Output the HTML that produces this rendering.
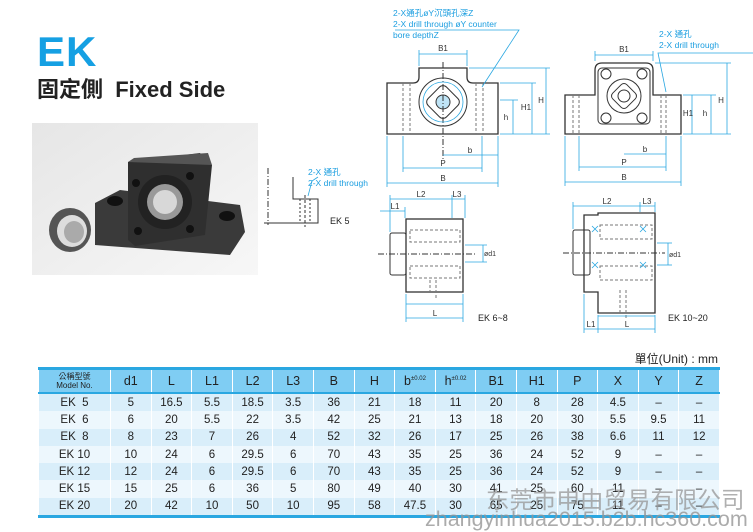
<!DOCTYPE html>
<html><head><meta charset="utf-8"><style>
body{margin:0;width:753px;height:531px;background:#fff;position:relative;overflow:hidden;font-family:"Liberation Sans","Noto Sans CJK TC",sans-serif}
.a{position:absolute;white-space:nowrap}
table{position:absolute;left:38px;top:367px;border-collapse:collapse;font-size:11.5px;color:#222;table-layout:fixed;border-top:3px solid #2aa7e1;border-bottom:3px solid #2aa7e1}
td,th{height:17.3px;padding:0;text-align:center;border-left:1px solid #fff;border-right:1px solid #fff}
th{background:#7fcdf3;font-weight:normal;font-size:12.5px;height:22px;border-bottom:2px solid #2aa7e1}
tr:nth-child(even) td{background:#d9eefa}
tr:nth-child(odd) td{background:#edf7fd}
</style></head><body>
<div class="a" style="left:37px;top:28px;font-size:42px;font-weight:bold;color:#15a0e3;letter-spacing:1px">EK</div>
<div class="a" style="left:37px;top:72px;font-size:22px;font-weight:bold;color:#222">固定側&nbsp; Fixed Side</div>

<svg class="a" style="left:0;top:0" width="753" height="360" viewBox="0 0 753 360">
<defs><linearGradient id="bg" x1="0" y1="0" x2="1" y2="1"><stop offset="0" stop-color="#e6e6e6"/><stop offset="1" stop-color="#f7f7f7"/></linearGradient></defs>
<rect x="32" y="123" width="226" height="152" fill="url(#bg)"/>
<polygon points="95,203 120,190 240,205 245,232 230,255 95,245" fill="#3a3a3a"/>
<polygon points="128,162 200,153 212,165 205,235 135,246 128,240" fill="#2f2f2f"/>
<polygon points="128,162 134,158 208,153 212,165" fill="#555"/>
<circle cx="165" cy="202" r="27" fill="#222"/>
<circle cx="165" cy="202" r="18" fill="#999"/>
<circle cx="165" cy="202" r="12" fill="#d8d8d8"/>
<circle cx="136" cy="183" r="4" fill="#111"/><circle cx="190" cy="176" r="4" fill="#111"/>
<circle cx="138" cy="231" r="4" fill="#111"/><circle cx="190" cy="229" r="4" fill="#111"/>
<ellipse cx="115" cy="201" rx="8" ry="5" fill="#111"/><ellipse cx="227" cy="216" rx="8" ry="5" fill="#111"/>
<ellipse cx="70" cy="230" rx="21" ry="22" fill="#555"/>
<ellipse cx="72" cy="231" rx="15" ry="16" fill="#ddd"/>
<ellipse cx="74" cy="232" rx="10" ry="11" fill="#aaa"/>
<g stroke="#333" fill="none" stroke-width="1">
<line x1="268" y1="168" x2="268" y2="225" stroke-dasharray="6,2,1,2"/>
<path d="M264 223H318V199H293V177"/>
<line x1="305" y1="195" x2="305" y2="227" stroke-dasharray="3,2"/>
<line x1="300" y1="199" x2="300" y2="223" stroke-dasharray="2,2"/><line x1="310" y1="199" x2="310" y2="223" stroke-dasharray="2,2"/>
<path d="M387 83H413Q419 83 419 77V68H467V77Q467 83 473 83H498V134H387Z" stroke-width="1.3"/>
<circle cx="443" cy="102" r="24"/>
<rect x="430" y="89" width="26" height="26" rx="5" transform="rotate(45 443 102)"/>
<circle cx="443" cy="102" r="7" fill="#bfe4f6"/>
<g stroke-dasharray="3,2" stroke="#777"><line x1="403" y1="83" x2="403" y2="134"/><line x1="410" y1="83" x2="410" y2="134"/><line x1="476" y1="83" x2="476" y2="134"/><line x1="483" y1="83" x2="483" y2="134"/></g>
<line x1="443" y1="62" x2="443" y2="160" stroke-dasharray="6,2,1,2"/>
<path d="M565 95H595V70Q595 63 602 63H646Q653 63 653 70V95H681V134H565Z" stroke-width="1.3"/>
<rect x="598" y="68" width="52" height="56" rx="4"/>
<circle cx="624" cy="96" r="17"/>
<rect x="614" y="86" width="20" height="20" rx="4" transform="rotate(45 624 96)"/>
<circle cx="624" cy="96" r="6"/>
<circle cx="606" cy="74" r="5"/><circle cx="642" cy="74" r="5"/><circle cx="606" cy="118" r="5"/><circle cx="642" cy="118" r="5"/>
<g stroke-dasharray="3,2" stroke="#777"><line x1="573" y1="95" x2="573" y2="134"/><line x1="579" y1="95" x2="579" y2="134"/><line x1="661" y1="95" x2="661" y2="134"/><line x1="666" y1="95" x2="666" y2="134"/></g>
<rect x="406" y="219" width="57" height="73" stroke-width="1.3"/>
<rect x="390" y="233" width="16" height="42" rx="2"/>
<line x1="378" y1="254" x2="475" y2="254" stroke-dasharray="6,2,1,2"/>
<g stroke-dasharray="3,2" stroke="#777"><rect x="410" y="230" width="50" height="12"/><rect x="410" y="266" width="50" height="12"/><line x1="430" y1="280" x2="430" y2="295"/><line x1="436" y1="280" x2="436" y2="300"/></g>
<path d="M598 213H655V313H598V292H584V215H598Z" stroke-width="1.3"/>
<rect x="573" y="230" width="17" height="45" rx="2"/>
<line x1="563" y1="253" x2="665" y2="253" stroke-dasharray="6,2,1,2"/>
<g stroke-dasharray="3,2" stroke="#777"><rect x="600" y="225" width="52" height="14"/><rect x="600" y="266" width="52" height="14"/><line x1="620" y1="290" x2="620" y2="315"/><line x1="626" y1="290" x2="626" y2="320"/></g>
</g>
<g stroke="#2aa7e1" fill="none" stroke-width="0.8">
<circle cx="443" cy="102" r="20"/>
<path d="M318 177L312 181L308 196"/>
<line x1="419" y1="54" x2="467" y2="54"/><line x1="419" y1="50" x2="419" y2="66"/><line x1="467" y1="50" x2="467" y2="66"/>
<line x1="500" y1="100" x2="518" y2="100"/><line x1="500" y1="134" x2="550" y2="134"/><line x1="500" y1="83" x2="536" y2="83"/><line x1="469" y1="68" x2="550" y2="68"/>
<line x1="513" y1="100" x2="513" y2="134"/><line x1="532" y1="83" x2="532" y2="134"/><line x1="546" y1="68" x2="546" y2="134"/>
<line x1="443" y1="155" x2="498" y2="155"/><line x1="403" y1="168" x2="482" y2="168"/><line x1="387" y1="183" x2="498" y2="183"/>
<line x1="387" y1="136" x2="387" y2="187"/><line x1="498" y1="136" x2="498" y2="187"/><line x1="403" y1="136" x2="403" y2="172"/><line x1="482" y1="136" x2="482" y2="172"/>
<path d="M482 87L519 30H395"/>
<line x1="595" y1="55" x2="653" y2="55"/><line x1="595" y1="51" x2="595" y2="61"/><line x1="653" y1="51" x2="653" y2="61"/>
<line x1="683" y1="95" x2="716" y2="95"/><line x1="683" y1="134" x2="731" y2="134"/><line x1="655" y1="63" x2="731" y2="63"/>
<line x1="692" y1="95" x2="692" y2="134"/><line x1="711" y1="95" x2="711" y2="134"/><line x1="727" y1="63" x2="727" y2="134"/>
<line x1="624" y1="154" x2="666" y2="154"/><line x1="579" y1="167" x2="666" y2="167"/><line x1="565" y1="182" x2="681" y2="182"/>
<line x1="565" y1="136" x2="565" y2="186"/><line x1="681" y1="136" x2="681" y2="186"/><line x1="579" y1="136" x2="579" y2="171"/><line x1="666" y1="136" x2="666" y2="171"/>
<path d="M666 92L658 53H753"/>
<line x1="390" y1="199" x2="465" y2="199"/><line x1="380" y1="211" x2="405" y2="211"/>
<line x1="390" y1="195" x2="390" y2="232"/><line x1="452" y1="195" x2="452" y2="218"/><line x1="465" y1="195" x2="465" y2="218"/><line x1="405" y1="207" x2="405" y2="218"/>
<line x1="406" y1="304" x2="463" y2="304"/><line x1="406" y1="318" x2="463" y2="318"/>
<line x1="406" y1="294" x2="406" y2="322"/><line x1="463" y1="294" x2="463" y2="322"/>
<line x1="483" y1="245" x2="483" y2="262"/><line x1="465" y1="245" x2="487" y2="245"/><line x1="465" y1="262" x2="487" y2="262"/>
<line x1="573" y1="206" x2="655" y2="206"/><line x1="573" y1="202" x2="573" y2="229"/><line x1="640" y1="202" x2="640" y2="212"/><line x1="655" y1="202" x2="655" y2="212"/>
<line x1="598" y1="316" x2="655" y2="316"/><line x1="584" y1="329" x2="655" y2="329"/>
<line x1="584" y1="294" x2="584" y2="333"/><line x1="598" y1="315" x2="598" y2="333"/><line x1="655" y1="315" x2="655" y2="333"/>
<line x1="668" y1="243" x2="668" y2="265"/><line x1="657" y1="243" x2="672" y2="243"/><line x1="657" y1="265" x2="672" y2="265"/>
<path d="M592 226l6 6m0-6l-6 6M640 226l6 6m0-6l-6 6M592 262l6 6m0-6l-6 6M640 262l6 6m0-6l-6 6"/>
</g>
<g font-size="8" fill="#333" text-anchor="middle">
<text x="443" y="51">B1</text><text x="624" y="52">B1</text>
<text x="470" y="153">b</text><text x="443" y="166">P</text><text x="443" y="181">B</text>
<text x="645" y="152">b</text><text x="624" y="165">P</text><text x="624" y="180">B</text>
<text x="506" y="120">h</text><text x="526" y="110">H1</text><text x="541" y="103">H</text>
<text x="688" y="116">H1</text><text x="705" y="116">h</text><text x="721" y="103">H</text>
<text x="421" y="197">L2</text><text x="457" y="197">L3</text><text x="395" y="209">L1</text><text x="435" y="316">L</text>
<text x="607" y="204">L2</text><text x="647" y="204">L3</text><text x="591" y="327">L1</text><text x="627" y="327">L</text>
<text x="490" y="256" font-size="7">ød1</text><text x="675" y="257" font-size="7">ød1</text>
</g>
<g font-size="9" fill="#222"><text x="330" y="224">EK 5</text><text x="478" y="321">EK 6~8</text><text x="668" y="321">EK 10~20</text></g>
<g font-size="8.5" fill="#1b9ee0"><text x="393" y="16">2-X通孔øY沉頭孔深Z</text><text x="393" y="27">2-X drill through øY counter</text><text x="393" y="38">bore depthZ</text>
<text x="659" y="37">2-X 通孔</text><text x="659" y="48">2-X drill through</text>
<text x="308" y="175">2-X 通孔</text><text x="308" y="186">2-X drill through</text></g>
</svg>

<div class="a" style="right:35px;top:350px;font-size:12px;color:#222">單位(Unit) : mm</div>
<table>
<colgroup><col style="width:72px"><col span="15" style="width:40.6px"></colgroup>
<tr><th style="font-size:8px;line-height:9px">公稱型號<br>Model No.</th><th>d1</th><th>L</th><th>L1</th><th>L2</th><th>L3</th><th>B</th><th>H</th><th>b<sup style="font-size:6px">±0.02</sup></th><th>h<sup style="font-size:6px">±0.02</sup></th><th>B1</th><th>H1</th><th>P</th><th>X</th><th>Y</th><th>Z</th></tr>
<tr><td>EK &nbsp;5</td><td>5</td><td>16.5</td><td>5.5</td><td>18.5</td><td>3.5</td><td>36</td><td>21</td><td>18</td><td>11</td><td>20</td><td>8</td><td>28</td><td>4.5</td><td>–</td><td>–</td></tr>
<tr><td>EK &nbsp;6</td><td>6</td><td>20</td><td>5.5</td><td>22</td><td>3.5</td><td>42</td><td>25</td><td>21</td><td>13</td><td>18</td><td>20</td><td>30</td><td>5.5</td><td>9.5</td><td>11</td></tr>
<tr><td>EK &nbsp;8</td><td>8</td><td>23</td><td>7</td><td>26</td><td>4</td><td>52</td><td>32</td><td>26</td><td>17</td><td>25</td><td>26</td><td>38</td><td>6.6</td><td>11</td><td>12</td></tr>
<tr><td>EK 10</td><td>10</td><td>24</td><td>6</td><td>29.5</td><td>6</td><td>70</td><td>43</td><td>35</td><td>25</td><td>36</td><td>24</td><td>52</td><td>9</td><td>–</td><td>–</td></tr>
<tr><td>EK 12</td><td>12</td><td>24</td><td>6</td><td>29.5</td><td>6</td><td>70</td><td>43</td><td>35</td><td>25</td><td>36</td><td>24</td><td>52</td><td>9</td><td>–</td><td>–</td></tr>
<tr><td>EK 15</td><td>15</td><td>25</td><td>6</td><td>36</td><td>5</td><td>80</td><td>49</td><td>40</td><td>30</td><td>41</td><td>25</td><td>60</td><td>11</td><td>–</td><td>–</td></tr>
<tr><td>EK 20</td><td>20</td><td>42</td><td>10</td><td>50</td><td>10</td><td>95</td><td>58</td><td>47.5</td><td>30</td><td>65</td><td>25</td><td>75</td><td>11</td><td>–</td><td>–</td></tr>
</table>
<div class="a" style="left:486px;top:481px;font-size:23.5px;color:rgba(150,150,150,0.75);font-family:'Noto Sans CJK SC',sans-serif">东莞市申由贸易有限公司</div>
<div class="a" style="left:425px;top:507px;font-size:21.5px;color:rgba(150,150,150,0.8)">zhangyinhua2015.b2b.hc360.com</div>
</body></html>
